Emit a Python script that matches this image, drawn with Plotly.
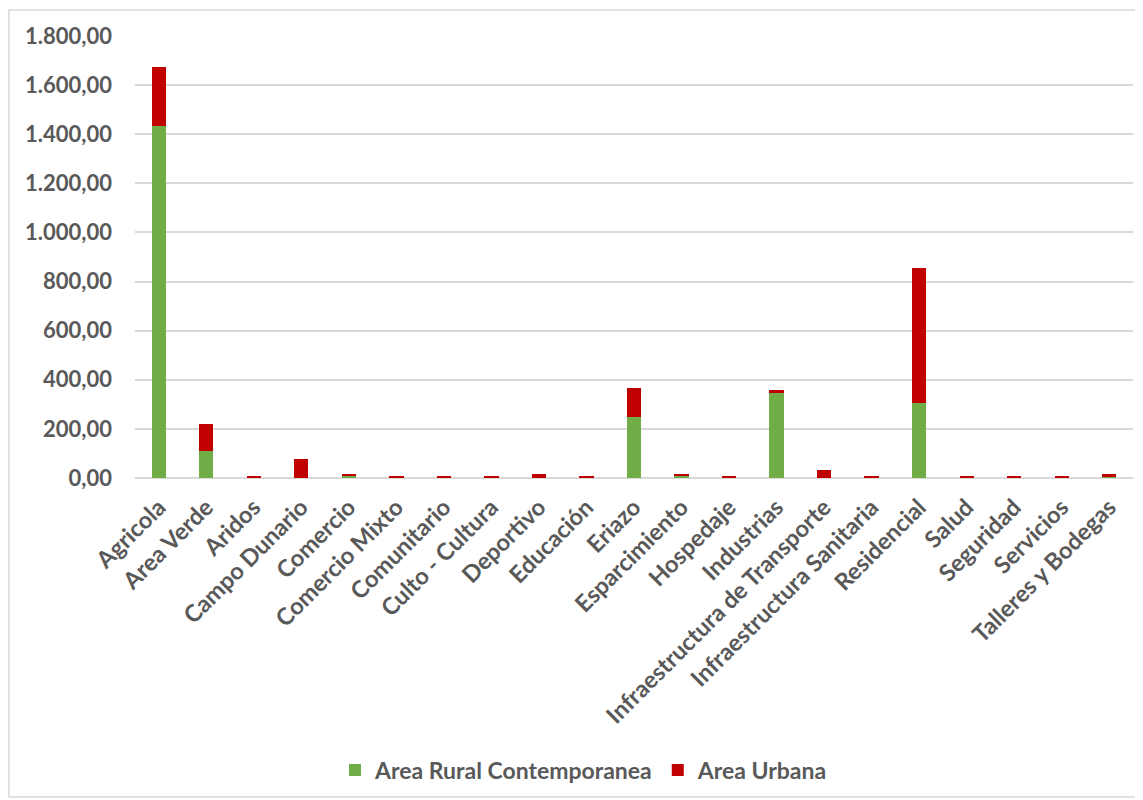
import plotly.graph_objects as go

categories = ["Agricola", "Area Verde", "Aridos", "Campo Dunario", "Comercio",
              "Comercio Mixto", "Comunitario", "Culto - Cultura", "Deportivo", "Educación",
              "Eriazo", "Esparcimiento", "Hospedaje", "Industrias",
              "Infraestructura de Transporte", "Infraestructura Sanitaria", "Residencial",
              "Salud", "Seguridad", "Servicios", "Talleres y Bodegas"]
rural = [1435, 110, 0, 0, 10, 0, 0, 0, 0, 0, 247, 10, 0, 349, 0, 0, 306, 0, 0, 0, 8]
urbana = [239, 111, 7, 76, 7, 8, 8, 8, 18, 8, 119, 6, 8, 8, 33, 8, 549, 8, 8, 8, 8]

GREEN = "#70ad47"
RED = "#c00000"
FONT = "Lato"
GRAY = "#595959"

fig = go.Figure()
fig.add_trace(go.Bar(x=categories, y=rural, name="Area Rural Contemporanea",
                     marker=dict(color=GREEN, line=dict(width=0))))
fig.add_trace(go.Bar(x=categories, y=urbana, name="Area Urbana",
                     marker=dict(color=RED, line=dict(width=0))))

W, H = 1143, 800
OFF = 8  # page offset of the figure in the browser
ml, mt = 135 - OFF, 36 - OFF
pw, ph = 998, 442
mr, mb = W - ml - pw, H - mt - ph

def px(x):
    return (x - OFF - ml) / pw

def py(y):
    return (H - mb - (y - OFF)) / ph

fig.update_layout(
    width=W, height=H,
    barmode="stack", bargap=0.70,
    separators=",.",
    paper_bgcolor="white", plot_bgcolor="white",
    margin=dict(l=ml, r=mr, t=mt, b=mb, autoexpand=False),
    font=dict(family=FONT, color=GRAY, size=22, weight="bold"),
    showlegend=True,
    legend=dict(orientation="h", x=px(584), xanchor="center", y=py(770), yanchor="middle",
                font=dict(size=23, color=GRAY, family=FONT, weight="bold"),
                itemwidth=30, traceorder="normal"),
    xaxis=dict(tickangle=-45, showgrid=False, showline=False, ticks="",
               ticklabelstandoff=10,
               tickfont=dict(size=23.5, color=GRAY, family=FONT, weight="bold")),
    yaxis=dict(range=[0, 1800], dtick=200, tickformat=",.2f", gridcolor="#d9d9d9",
               gridwidth=1.5, zeroline=True, zerolinecolor="#d9d9d9", zerolinewidth=1.5,
               showline=False, ticks="", ticklabelstandoff=22,
               tickfont=dict(size=22, color=GRAY, family=FONT, weight="bold")),
    shapes=[dict(type="rect", xref="paper", yref="paper",
                 x0=px(9), x1=px(1139), y0=py(797), y1=py(10),
                 line=dict(color="#d9d9d9", width=1.5), fillcolor="rgba(0,0,0,0)", layer="below")],
)

fig.write_html("out.html")
